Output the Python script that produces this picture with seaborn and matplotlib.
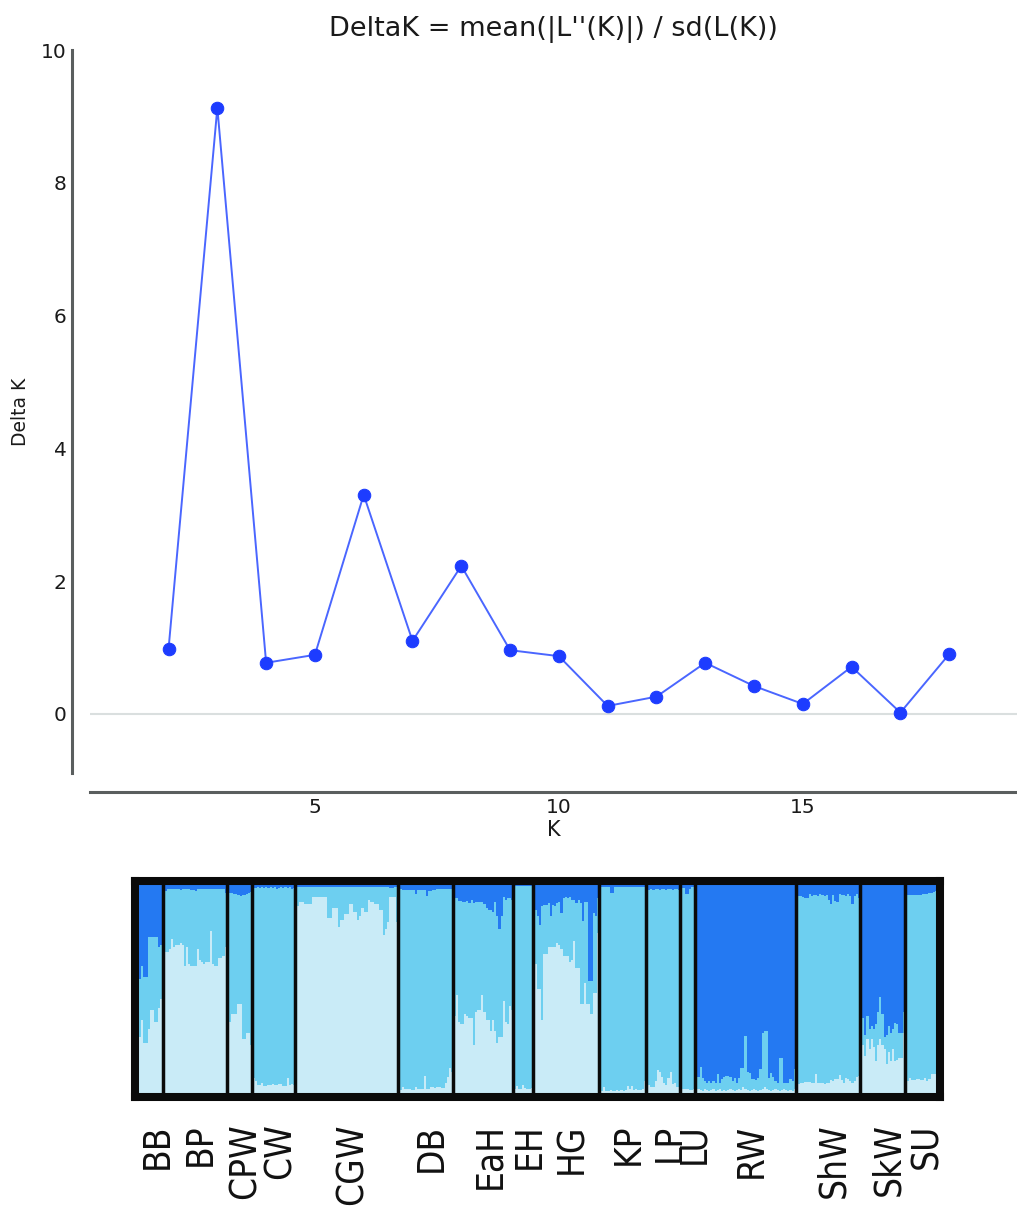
import numpy as np
import matplotlib
matplotlib.use("Agg")
import matplotlib.pyplot as plt
import matplotlib.transforms as mtransforms
import seaborn as sns

# ---- Evanno DeltaK (top panel) ----
k_values = [2, 3, 4, 5, 6, 7, 8, 9, 10, 11, 12, 13, 14, 15, 16, 17, 18]
delta_k = [0.98, 9.13, 0.77, 0.89, 3.30, 1.10, 2.23, 0.96, 0.87,
           0.12, 0.26, 0.77, 0.42, 0.15, 0.71, 0.02, 0.90]
y_ticks = [0, 2, 4, 6, 8, 10]
x_ticks = [5, 10, 15]

# ---- STRUCTURE membership (bottom panel) ----
# per individual: light = cluster at bottom, dark = cluster on top, middle = rest
pops = ["BB", "BP", "CPW", "CW", "CGW", "DB", "EaH", "EH", "HG",
        "KP", "LP", "LU", "RW", "ShW", "SkW", "SU"]

bb_light = [0.27, 0.35, 0.24, 0.24, 0.31, 0.40, 0.40, 0.34, 0.34, 0.41, 0.45]
bb_dark = [0.45, 0.39, 0.44, 0.44, 0.25, 0.25, 0.25, 0.25, 0.25, 0.30, 0.29]

bp_light = [0.67, 0.68, 0.68, 0.69, 0.74, 0.70, 0.71, 0.71, 0.72, 0.71,
            0.61, 0.70, 0.62, 0.61, 0.61, 0.61, 0.69, 0.64, 0.63, 0.62,
            0.63, 0.63, 0.78, 0.62, 0.61, 0.61, 0.65, 0.65, 0.66, 0.70]
bp_dark = [0.02, 0.03, 0.02, 0.02, 0.02, 0.02, 0.02, 0.02, 0.025, 0.02,
           0.02, 0.02, 0.02, 0.025, 0.025, 0.03, 0.02, 0.02, 0.02, 0.02,
           0.02, 0.02, 0.02, 0.02, 0.02, 0.02, 0.02, 0.02, 0.02, 0.04]

cpw_light = [0.27, 0.34, 0.38, 0.38, 0.38, 0.43, 0.43, 0.26, 0.26, 0.29, 0.29, 0.23]
cpw_dark = [0.035, 0.04, 0.04, 0.045, 0.045, 0.05, 0.055, 0.05, 0.05, 0.045, 0.04, 0.035]

cw_light = [0.07, 0.06, 0.04, 0.04, 0.05, 0.035, 0.035, 0.04, 0.04, 0.045,
            0.04, 0.04, 0.045, 0.045, 0.035, 0.035, 0.07, 0.04, 0.045, 0.04]
cw_dark = [0.015, 0.015, 0.012, 0.015, 0.012, 0.015, 0.012, 0.015, 0.012, 0.015,
           0.012, 0.02, 0.015, 0.012, 0.015, 0.012, 0.015, 0.012, 0.02, 0.015]

cgw_light = [0.85, 0.90, 0.92, 0.92, 0.91, 0.91, 0.91, 0.91, 0.94, 0.94,
             0.94, 0.94, 0.94, 0.94, 0.94, 0.84, 0.84, 0.89, 0.89, 0.89,
             0.80, 0.83, 0.83, 0.86, 0.86, 0.91, 0.91, 0.87, 0.87, 0.83,
             0.85, 0.89, 0.87, 0.87, 0.93, 0.92, 0.92, 0.91, 0.91, 0.88,
             0.88, 0.76, 0.79, 0.82, 0.94, 0.94, 0.94, 0.82]
cgw_dark = [0.01, 0.012, 0.01, 0.01, 0.012, 0.01, 0.008, 0.01, 0.012, 0.01,
            0.01, 0.012, 0.01, 0.01, 0.012, 0.01, 0.01, 0.012, 0.01, 0.01,
            0.012, 0.01, 0.01, 0.012, 0.01, 0.01, 0.012, 0.01, 0.01, 0.012,
            0.01, 0.01, 0.012, 0.01, 0.01, 0.012, 0.01, 0.01, 0.012, 0.01,
            0.01, 0.012, 0.01, 0.01, 0.015, 0.015, 0.012, 0.012]

db_light = [0.02, 0.016, 0.03, 0.02, 0.02, 0.019, 0.016, 0.016, 0.03, 0.02,
            0.02, 0.02, 0.08, 0.02, 0.02, 0.03, 0.03, 0.022, 0.027, 0.027,
            0.022, 0.022, 0.048, 0.075, 0.118, 0.10]
db_dark = [0.02, 0.02, 0.025, 0.025, 0.025, 0.025, 0.025, 0.025, 0.045, 0.025,
           0.025, 0.025, 0.025, 0.055, 0.03, 0.03, 0.025, 0.025, 0.02, 0.02,
           0.02, 0.02, 0.02, 0.02, 0.02, 0.02]

eah_light = [0.37, 0.47, 0.34, 0.33, 0.33, 0.38, 0.37, 0.36, 0.36, 0.23,
             0.39, 0.40, 0.40, 0.47, 0.39, 0.35, 0.35, 0.30, 0.35, 0.30,
             0.24, 0.27, 0.27, 0.44, 0.34, 0.33, 0.42, 0.40]
eah_dark = [0.064, 0.064, 0.075, 0.075, 0.08, 0.08, 0.075, 0.088, 0.072, 0.088,
            0.083, 0.083, 0.08, 0.08, 0.09, 0.11, 0.12, 0.12, 0.13, 0.08,
            0.15, 0.21, 0.15, 0.06, 0.072, 0.064, 0.064, 0.07]

eh_light = [0.02, 0.035, 0.02, 0.02, 0.04, 0.025, 0.02, 0.02, 0.025]
eh_dark = [0.005, 0.005, 0.006, 0.005, 0.005, 0.006, 0.005, 0.005, 0.006]

hg_light = [0.38, 0.62, 0.50, 0.50, 0.35, 0.67, 0.67, 0.70, 0.70, 0.70,
            0.70, 0.72, 0.71, 0.69, 0.66, 0.66, 0.66, 0.63, 0.64, 0.73,
            0.60, 0.60, 0.43, 0.43, 0.53, 0.43, 0.43, 0.38, 0.48, 0.48, 0.77]
hg_dark = [0.24, 0.12, 0.15, 0.19, 0.10, 0.096, 0.096, 0.088, 0.15, 0.096,
           0.10, 0.088, 0.08, 0.136, 0.064, 0.056, 0.064, 0.056, 0.072, 0.072,
           0.085, 0.072, 0.088, 0.175, 0.08, 0.08, 0.46, 0.46, 0.136, 0.15, 0.064]

kp_light = [0.012, 0.012, 0.03, 0.012, 0.012, 0.015, 0.012, 0.012, 0.015, 0.012,
            0.015, 0.012, 0.015, 0.035, 0.02, 0.035, 0.015, 0.02, 0.015, 0.015,
            0.02, 0.06]
kp_dark = [0.01, 0.01, 0.01, 0.01, 0.01, 0.04, 0.04, 0.01, 0.012, 0.01,
           0.012, 0.01, 0.012, 0.01, 0.012, 0.01, 0.012, 0.01, 0.012, 0.01,
           0.012, 0.01]

lp_light = [0.04, 0.04, 0.03, 0.03, 0.06, 0.11, 0.10, 0.075, 0.05, 0.04,
            0.07, 0.10, 0.045, 0.05, 0.03, 0.03]
lp_dark = [0.02, 0.025, 0.02, 0.025, 0.02, 0.02, 0.025, 0.02, 0.02, 0.025,
           0.02, 0.02, 0.025, 0.02, 0.02, 0.025]

lu_light = [0.025, 0.02, 0.02, 0.02, 0.015, 0.015, 0.02]
lu_dark = [0.015, 0.015, 0.045, 0.045, 0.02, 0.012, 0.012]

rw_light = [0.015, 0.02, 0.015, 0.012, 0.02, 0.015, 0.012, 0.015, 0.02, 0.012,
            0.015, 0.02, 0.012, 0.015, 0.012, 0.015, 0.02, 0.015, 0.012, 0.015,
            0.02, 0.015, 0.027, 0.02, 0.015, 0.012, 0.015, 0.02, 0.015, 0.012,
            0.015, 0.02, 0.027, 0.02, 0.015, 0.012, 0.015, 0.02, 0.015, 0.012,
            0.015, 0.02, 0.015, 0.012, 0.015, 0.012, 0.02]
rw_dark = [0.925, 0.925, 0.877, 0.93, 0.94, 0.95, 0.94, 0.95, 0.94, 0.952,
           0.91, 0.952, 0.933, 0.925, 0.92, 0.92, 0.925, 0.94, 0.93, 0.95,
           0.93, 0.882, 0.882, 0.726, 0.90, 0.904, 0.933, 0.933, 0.936, 0.93,
           0.885, 0.71, 0.70, 0.70, 0.93, 0.904, 0.925, 0.94, 0.95, 0.83,
           0.83, 0.95, 0.952, 0.952, 0.933, 0.94, 0.885]

shw_light = [0.043, 0.043, 0.05, 0.05, 0.054, 0.054, 0.054, 0.048, 0.048, 0.09,
             0.048, 0.05, 0.05, 0.043, 0.048, 0.048, 0.064, 0.059, 0.067, 0.067,
             0.086, 0.062, 0.048, 0.07, 0.067, 0.059, 0.05, 0.059, 0.075, 0.083]
shw_dark = [0.043, 0.053, 0.053, 0.056, 0.064, 0.064, 0.043, 0.053, 0.048, 0.048,
            0.053, 0.043, 0.048, 0.053, 0.048, 0.072, 0.09, 0.048, 0.075, 0.08,
            0.043, 0.048, 0.048, 0.053, 0.043, 0.053, 0.09, 0.053, 0.043, 0.064]

skw_light = [0.21, 0.23, 0.18, 0.26, 0.21, 0.26, 0.22, 0.155, 0.23, 0.26,
             0.23, 0.21, 0.14, 0.195, 0.155, 0.21, 0.155, 0.16, 0.166, 0.166, 0.29]
skw_dark = [0.66, 0.64, 0.72, 0.63, 0.69, 0.68, 0.69, 0.67, 0.61, 0.54,
            0.62, 0.73, 0.72, 0.68, 0.71, 0.69, 0.665, 0.67, 0.71, 0.71, 0.61]

su_light = [0.06, 0.06, 0.07, 0.062, 0.062, 0.067, 0.067, 0.064, 0.064, 0.07,
            0.06, 0.067, 0.09, 0.09, 0.09]
su_dark = [0.05, 0.05, 0.05, 0.048, 0.05, 0.048, 0.048, 0.05, 0.045, 0.045,
           0.042, 0.04, 0.038, 0.033, 0.03]

light_lists = [bb_light, bp_light, cpw_light, cw_light, cgw_light, db_light,
               eah_light, eh_light, hg_light, kp_light, lp_light, lu_light,
               rw_light, shw_light, skw_light, su_light]
dark_lists = [bb_dark, bp_dark, cpw_dark, cw_dark, cgw_dark, db_dark,
              eah_dark, eh_dark, hg_dark, kp_dark, lp_dark, lu_dark,
              rw_dark, shw_dark, skw_dark, su_dark]

c_dark = "#2479f2"
c_mid = "#6dcff0"
c_light = "#c9ebf7"

sns.set_style("white")
plt.rcParams["font.family"] = ["DejaVu Sans"]

W, H = 1017, 1220
fig = plt.figure(figsize=(W / 100, H / 100), dpi=100)

# ---------------- top: DeltaK ----------------
ax = fig.add_axes([90 / W, 1 - 773 / H, 927 / W, 723 / H])
ax.axhline(0, color="#dadfdf", lw=1.5, zorder=0)
sns.lineplot(x=k_values, y=delta_k, ax=ax, color="#4a66ff", lw=1.4,
             marker="o", markersize=9, markerfacecolor="#1d3cff",
             markeredgecolor="#1d3cff")
ax.set_xlim(0.39, 19.39)
ax.set_ylim(-0.89, 10)
ax.set_xticks(x_ticks)
ax.set_yticks(y_ticks)
for s in ["top", "right"]:
    ax.spines[s].set_visible(False)
ax.spines["left"].set_position(("outward", 13))
ax.spines["bottom"].set_position(("outward", 14))
for s in ["left", "bottom"]:
    ax.spines[s].set_color("#5a5e5e")
    ax.spines[s].set_linewidth(2.2)
ax.tick_params(direction="in", length=5, width=1, color="#555555",
               labelsize=14.5, labelcolor="#1a1a1a", pad=4)
ax.set_title("DeltaK = mean(|L''(K)|) / sd(L(K))", fontsize=19.5, pad=10,
             color="#1a1a1a")
ax.set_xlabel("K", fontsize=15, labelpad=2, color="#1a1a1a")
ax.set_ylabel("Delta K", fontsize=13.5, labelpad=8, color="#1a1a1a")

# ---------------- bottom: STRUCTURE bars ----------------
bx = fig.add_axes([135 / W, 1 - 1097 / H, 805 / W, 216 / H])
light = np.concatenate(light_lists)
dark = np.concatenate(dark_lists)
mid = 1 - light - dark
n = len(light)
xs = np.arange(n) + 0.5
bx.bar(xs, light, width=1.0, color=c_light, linewidth=0, antialiased=False)
bx.bar(xs, mid, width=1.0, bottom=light, color=c_mid, linewidth=0, antialiased=False)
bx.bar(xs, dark, width=1.0, bottom=light + mid, color=c_dark, linewidth=0,
       antialiased=False)

sizes = [len(v) for v in light_lists]
edges = np.cumsum([0] + sizes)
for e in edges[1:-1]:
    bx.axvline(e, color="#0a0a0a", lw=2.5)
centers = (edges[:-1] + edges[1:]) / 2

# keep the bars clear of the thick frame (4 px left, 3 px right)
per_px = n / 798
bx.set_xlim(-4 * per_px, n + 3 * per_px)
bx.set_ylim(-4 / 209, 1 + 4 / 209)
bx.set_yticks([])
bx.set_xticks(centers)
bx.set_xticklabels(pops, rotation=90, fontsize=26.5, fontstretch="condensed",
                   va="top")
bx.tick_params(axis="x", length=0, pad=19, labelcolor="#111111")
shift = mtransforms.ScaledTranslation(6 / 100, 0, fig.dpi_scale_trans)
for lab in bx.get_xticklabels():
    lab.set_transform(lab.get_transform() + shift)
for s in bx.spines.values():
    s.set_visible(True)
    s.set_color("#0a0a0a")
    s.set_linewidth(5.8)

fig.savefig("out.png", dpi=100)
